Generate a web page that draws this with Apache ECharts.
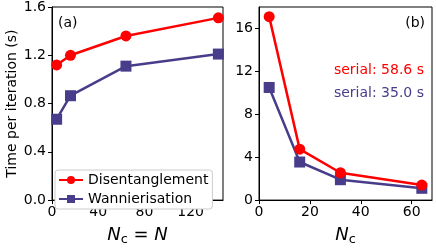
<!DOCTYPE html>
<html><head><meta charset="utf-8">
<script src="https://cdn.jsdelivr.net/npm/echarts@6/dist/echarts.min.js"></script>
<style>html,body{margin:0;padding:0;background:#fff}#c{width:436px;height:251px}</style>
</head><body><div id="c"></div>
<script>
const xA = [4, 16, 64, 144];
const disA = [1.12, 1.20, 1.36, 1.51];
const wanA = [0.67, 0.865, 1.11, 1.21];
const xB = [4, 16, 32, 64];
const disB = [17.1, 4.75, 2.55, 1.4];
const wanB = [10.5, 3.55, 1.9, 1.1];
const yTicksA = [0, 0.4, 0.8, 1.2, 1.6];
const yTicksB = [0, 4, 8, 12, 16];

const RED = '#ff0000', BLUE = '#483d8b';
const FF = 'DejaVu Sans';
const pairs = (xs, ys) => xs.map((x, i) => [x, ys[i]]);

const chart = echarts.init(document.getElementById('c'), null, {renderer: 'canvas'});
const axLine = {show: true, lineStyle: {color: '#000', width: 1}};
const axTick = {show: true, inside: false, length: 4, lineStyle: {color: '#000', width: 1}};
const lbl = {color: '#000', fontSize: 14, fontFamily: FF};
const nameRich = {
  i: {fontFamily: FF, fontSize: 18, fontStyle: 'italic', color: '#000', lineHeight: 20},
  r: {fontFamily: FF, fontSize: 18, color: '#000', lineHeight: 20},
  s: {fontFamily: FF, fontSize: 13, color: '#000', lineHeight: 13, padding: [9, 0, 0, 0]}
};

function ser(name, xs, ys, color, sym, xi) {
  return {
    name, type: 'line', xAxisIndex: xi, yAxisIndex: xi, data: pairs(xs, ys),
    symbol: sym, symbolSize: 11, showSymbol: true,
    lineStyle: {color, width: 2.5}, itemStyle: {color}, animation: false,
    z: name === 'Disentanglement' ? 3 : 2
  };
}

chart.setOption({
  animation: false,
  grid: [
    {left: 52, top: 7, width: 171, height: 206, show: true, borderColor: '#000', borderWidth: 1},
    {left: 259, top: 7, width: 173, height: 206, show: true, borderColor: '#000', borderWidth: 1}
  ],
  xAxis: [
    {type: 'value', gridIndex: 0, min: 0, max: 148, interval: 40, axisLine: axLine, axisTick: axTick,
     axisLabel: Object.assign({margin: 5, showMaxLabel: false}, lbl), splitLine: {show: false},
     name: '{i|N}{s|c}{r| = }{i|N}', nameLocation: 'middle', nameGap: 15, nameTextStyle: {rich: nameRich}},
    {type: 'value', gridIndex: 1, min: 0, max: 68, interval: 20, axisLine: axLine, axisTick: axTick,
     axisLabel: Object.assign({margin: 5, showMaxLabel: false}, lbl), splitLine: {show: false},
     name: '{i|N}{s|c}', nameLocation: 'middle', nameGap: 15, nameTextStyle: {rich: nameRich}}
  ],
  yAxis: [
    {type: 'value', gridIndex: 0, min: 0, max: 1.6, interval: 0.4, axisLine: axLine, axisTick: axTick,
     axisLabel: Object.assign({margin: 6, formatter: v => v.toFixed(1)}, lbl), splitLine: {show: false},
     name: 'Time per iteration (s)', nameLocation: 'middle', nameGap: 32,
     nameTextStyle: {fontFamily: FF, fontSize: 14, color: '#000'}},
    {type: 'value', gridIndex: 1, min: 0, max: 18, interval: 4, axisLine: axLine, axisTick: axTick,
     axisLabel: Object.assign({margin: 6, showMaxLabel: false, formatter: v => String(v)}, lbl), splitLine: {show: false}}
  ],
  legend: {
    left: 55, top: 170, orient: 'vertical', itemGap: 5, itemWidth: 24, itemHeight: 10,
    padding: [3, 4, 3, 3], borderColor: '#ccc', borderWidth: 1, borderRadius: 3, backgroundColor: '#fff',
    textStyle: {fontFamily: FF, fontSize: 14, color: '#000', padding: [0, 0, 0, 0]},
    data: ['Disentanglement', 'Wannierisation']
  },
  graphic: [
    {type: 'text', left: 58, top: 16, style: {text: '(a)', font: '14px "DejaVu Sans"', fill: '#000'}},
    {type: 'text', right: 11, top: 16, style: {text: '(b)', font: '14px "DejaVu Sans"', fill: '#000'}},
    {type: 'text', right: 12, top: 63, style: {text: 'serial: 58.6 s', font: '14px "DejaVu Sans"', fill: RED}},
    {type: 'text', right: 12, top: 86, style: {text: 'serial: 35.0 s', font: '14px "DejaVu Sans"', fill: BLUE}}
  ],
  series: [
    ser('Disentanglement', xA, disA, RED, 'circle', 0),
    ser('Wannierisation', xA, wanA, BLUE, 'rect', 0),
    ser('Disentanglement', xB, disB, RED, 'circle', 1),
    ser('Wannierisation', xB, wanB, BLUE, 'rect', 1)
  ]
});
</script></body></html>
